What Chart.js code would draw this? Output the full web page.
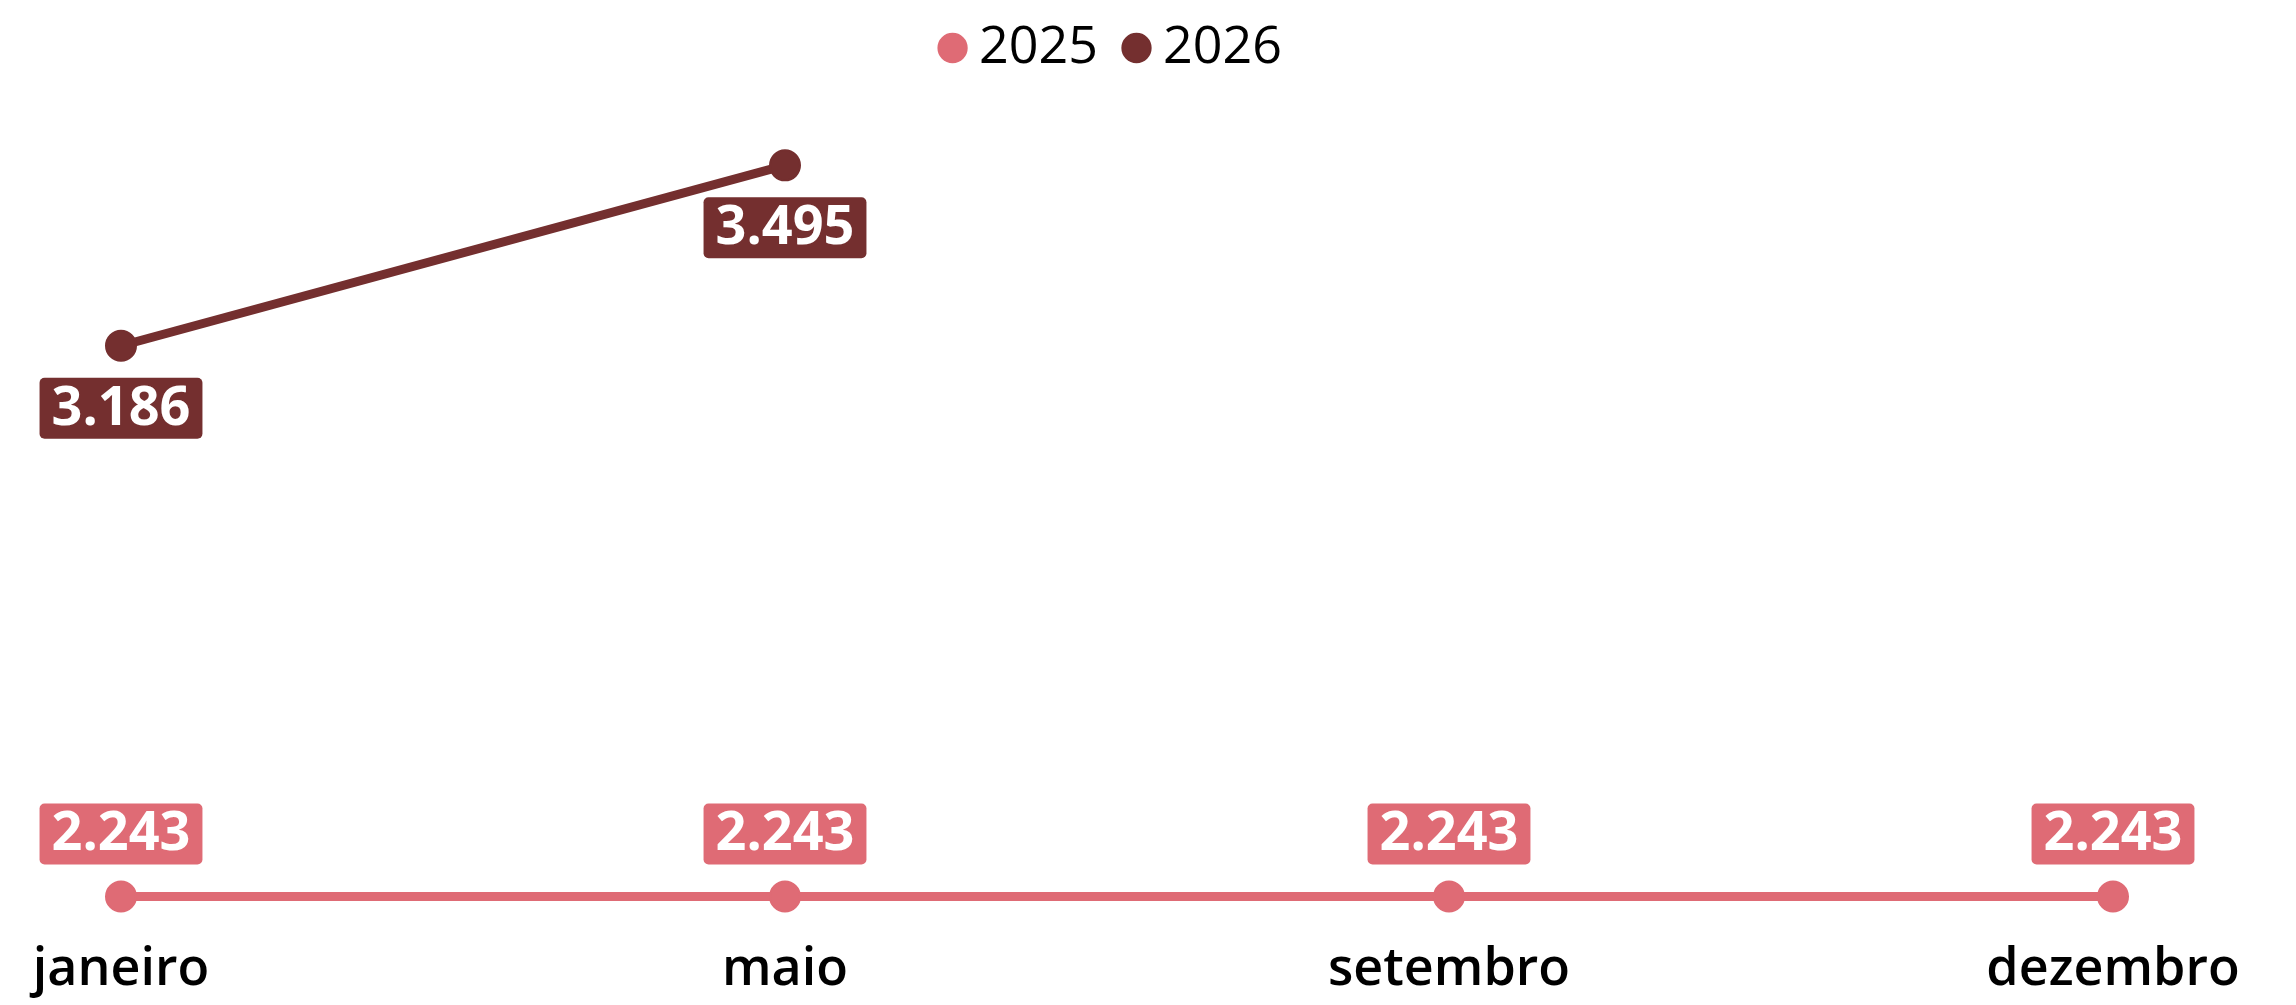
<!DOCTYPE html>
<html lang="pt-BR">
<head>
<meta charset="utf-8">
<title>2025 x 2026</title>
<script src="https://cdn.jsdelivr.net/npm/chart.js@4/dist/chart.umd.min.js"></script>
<style>
  html, body { margin: 0; padding: 0; background: #ffffff; }
  #wrap { width: 2296px; height: 1005px; position: relative; }
</style>
</head>
<body>
<div id="wrap"><canvas id="chart"></canvas></div>
<script>
// Chart data
const months = ['janeiro', 'maio', 'setembro', 'dezembro'];
const values2025 = [2243, 2243, 2243, 2243];
const values2026 = [3186, 3495, null, null];

const COLOR_2025 = '#df6b75';
const COLOR_2026 = '#742f2f';
const FONT = '"Open Sans", "Noto Sans", sans-serif';

// pt-BR thousands separator
function formatValue(v) {
  return String(Math.round(v)).replace(/\B(?=(\d{3})+(?!\d))/g, '.');
}

// Boxed value labels (datalabels plugin is not available offline)
const boxLabels = {
  id: 'boxLabels',
  afterDatasetsDraw(chart) {
    const ctx = chart.ctx;
    const fontSize = 54;
    const gap = 32; // point centre to box edge
    ctx.save();
    ctx.font = `700 ${fontSize}px ${FONT}`;
    ctx.textAlign = 'center';
    ctx.textBaseline = 'middle';

    chart.data.datasets.forEach((ds, i) => {
      const meta = chart.getDatasetMeta(i);
      if (meta.hidden) return;
      meta.data.forEach((pt, j) => {
        const v = ds.data[j];
        if (v === null || v === undefined) return;
        const text = formatValue(v);
        const w = ctx.measureText(text).width + 24;
        const h = 61;
        const x = pt.x - w / 2;
        const y = ds.labelAlign === 'bottom' ? pt.y + gap : pt.y - gap - h;
        ctx.fillStyle = ds.borderColor;
        ctx.beginPath();
        ctx.roundRect(x, y, w, h, 5);
        ctx.fill();
        ctx.fillStyle = '#ffffff';
        ctx.fillText(text, pt.x, y + h / 2 + 1);
      });
    });
    ctx.restore();
  }
};

// Extra room between legend and plot
const legendSpacer = {
  id: 'legendSpacer',
  beforeInit(chart) {
    const originalFit = chart.legend.fit;
    chart.legend.fit = function fit() {
      originalFit.bind(chart.legend)();
      this.height += 20;
    };
  }
};

const ctx = document.getElementById('chart').getContext('2d');

new Chart(ctx, {
  type: 'line',
  data: {
    labels: months,
    datasets: [
      {
        label: '2025',
        data: values2025,
        borderColor: COLOR_2025,
        backgroundColor: COLOR_2025,
        borderWidth: 9,
        pointRadius: 15,
        pointBorderWidth: 2,
        pointHoverRadius: 15,
        labelAlign: 'top'
      },
      {
        label: '2026',
        data: values2026,
        borderColor: COLOR_2026,
        backgroundColor: COLOR_2026,
        borderWidth: 9,
        pointRadius: 15,
        pointBorderWidth: 2,
        pointHoverRadius: 15,
        labelAlign: 'bottom'
      }
    ]
  },
  options: {
    responsive: true,
    maintainAspectRatio: false,
    animation: false,
    layout: {
      padding: { left: 121, right: 183, top: -16, bottom: -13 }
    },
    scales: {
      x: {
        grid: { display: false, drawTicks: false },
        border: { display: false },
        ticks: {
          color: '#000000',
          padding: 17,
          font: { family: FONT, size: 52, weight: '600', lineHeight: 1.2 }
        }
      },
      y: {
        display: false,
        min: 2200,
        max: 3600
      }
    },
    plugins: {
      legend: {
        position: 'top',
        labels: {
          usePointStyle: true,
          pointStyle: 'circle',
          boxWidth: 1,
          boxHeight: 20,
          padding: 38,
          color: '#000000',
          font: { family: FONT, size: 52 }
        }
      },
      tooltip: { enabled: false }
    }
  },
  plugins: [boxLabels, legendSpacer]
});
</script>
</body>
</html>
